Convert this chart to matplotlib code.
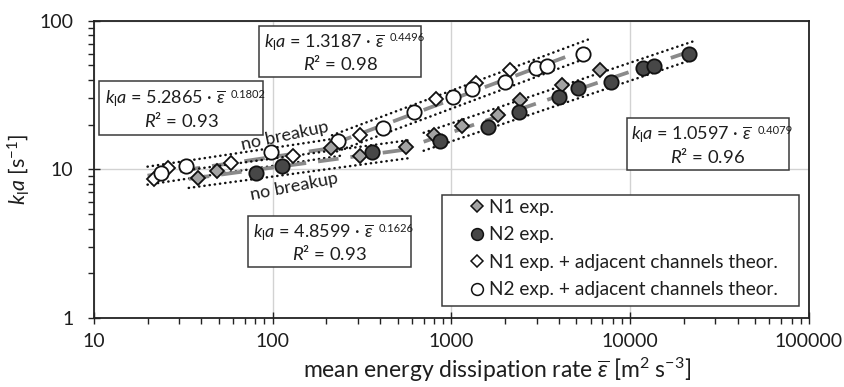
import numpy as np
import matplotlib
matplotlib.use('Agg')
import matplotlib.pyplot as plt
from matplotlib.patches import Rectangle
from matplotlib.lines import Line2D
from matplotlib.ticker import LogLocator, NullFormatter, FixedLocator, FixedFormatter

plt.rcParams['font.family'] = ['Lato', 'DejaVu Sans']
plt.rcParams['mathtext.fontset'] = 'custom'
plt.rcParams['mathtext.rm'] = 'Lato'
plt.rcParams['mathtext.it'] = 'Lato:italic'
plt.rcParams['mathtext.bf'] = 'Lato:bold'
plt.rcParams['mathtext.fallback'] = 'stixsans'

# ---------------- data ----------------
n1_exp_eps = [38.4, 48.9, 213.6, 310, 557, 799, 1141, 1821, 2428, 4157, 6738]
n1_exp_kla = [8.71, 9.80, 13.87, 12.30, 14.22, 17.0, 19.6, 23.2, 29.5, 37.1, 46.4]

n2_exp_eps = [80.4, 113.7, 361, 865, 1595, 2392, 3990, 5093, 7830, 11755, 13670, 21250]
n2_exp_kla = [9.41, 10.55, 13.1, 15.5, 19.3, 24.4, 30.5, 35.1, 38.7, 47.9, 49.2, 59.7]

n1_th_eps = [21.8, 26.0, 58.3, 131, 307.5, 825, 1380, 2117]
n1_th_kla = [8.66, 10.2, 11.0, 12.3, 16.9, 29.85, 37.9, 46.6]

n2_th_eps = [23.8, 32.7, 97.8, 231.6, 413, 617, 1017, 1306, 1986, 2984, 3420, 5414]
n2_th_kla = [9.5, 10.59, 13.0, 15.6, 19.1, 24.4, 30.8, 34.9, 38.6, 48.4, 49.7, 60.0]

# power-law fits kla = c * eps^n  (as printed on the chart)
fit_coef = [5.2865, 4.8599, 1.3187, 1.0597]
fit_expo = [0.1802, 0.1626, 0.4496, 0.4079]
fit_r2 = ['0.93', '0.93', '0.98', '0.96']
fit_lo = [20, 34, 215, 700]
fit_hi = [240, 600, 5800, 23000]

x_ticks = [10, 100, 1000, 10000, 100000]
x_ticklabels = ['10', '100', '1000', '10000', '100000']
y_ticks = [1, 10, 100]
y_ticklabels = ['1', '10', '100']

legend_labels = ['N1 exp.', 'N2 exp.', 'N1 exp. + adjacent channels theor.',
                 'N2 exp. + adjacent channels theor.']

# ---------------- figure ----------------
W, H = 844, 387
fig = plt.figure(figsize=(W / 100, H / 100), dpi=100)
ax_l, ax_r, ax_t, ax_b = 93.7, 809.0, 20.7, 318.0
ax = fig.add_axes([ax_l / W, 1 - ax_b / H, (ax_r - ax_l) / W, (ax_b - ax_t) / H])

def axfx(px):
    return (px - ax_l) / (ax_r - ax_l)

def axfy(py):
    return (ax_b - py) / (ax_b - ax_t)

ax.set_xscale('log')
ax.set_yscale('log')
ax.set_xlim(10, 100000)
ax.set_ylim(1, 100)

txtc = '#1e1e1e'
ax.xaxis.set_major_locator(FixedLocator(x_ticks))
ax.xaxis.set_major_formatter(FixedFormatter(x_ticklabels))
ax.yaxis.set_major_locator(FixedLocator(y_ticks))
ax.yaxis.set_major_formatter(FixedFormatter(y_ticklabels))
ax.xaxis.set_minor_locator(LogLocator(base=10, subs=np.arange(2, 10)))
ax.yaxis.set_minor_locator(LogLocator(base=10, subs=np.arange(2, 10)))
ax.xaxis.set_minor_formatter(NullFormatter())
ax.yaxis.set_minor_formatter(NullFormatter())
ax.tick_params(which='major', direction='inout', length=9, width=1.0, color='#222222',
               labelsize=14, labelcolor=txtc)
ax.tick_params(axis='x', which='major', pad=6)
ax.tick_params(axis='y', which='major', pad=10)
ax.tick_params(which='minor', direction='out', length=4.5, width=1.0, color='#222222')
ax.grid(which='major', color='#d2d2d2', lw=1.0, zorder=0)
ax.set_axisbelow(True)
for s in ax.spines.values():
    s.set_color('#222222')
    s.set_linewidth(1.3)

# fit lines + dotted bands
band = 10 ** (9.0 / 148.7)
for c, n, lo, hi in zip(fit_coef, fit_expo, fit_lo, fit_hi):
    xs = np.logspace(np.log10(lo), np.log10(hi), 60)
    ys = c * xs ** n
    ax.plot(xs, ys, color='#8a8a8a', lw=2.7, dashes=(5.5, 3.2), zorder=2)
    for f in (band, 1 / band):
        ax.plot(xs, ys * f, color='#111111', lw=1.8, linestyle=(0, (0.1, 2.0)),
                dash_capstyle='round', zorder=2)

# data markers
ms_c = 10.3
ms_d = 7.2
ax.plot(n1_th_eps, n1_th_kla, ls='none', marker='D', ms=ms_d, mfc='white', mec='#111111', mew=1.3, zorder=4)
ax.plot(n2_th_eps, n2_th_kla, ls='none', marker='o', ms=ms_c, mfc='white', mec='#111111', mew=1.3, zorder=4)
ax.plot(n1_exp_eps, n1_exp_kla, ls='none', marker='D', ms=ms_d, mfc='#a3a3a3', mec='#111111', mew=1.3, zorder=5)
ax.plot(n2_exp_eps, n2_exp_kla, ls='none', marker='o', ms=ms_c, mfc='#474747', mec='#111111', mew=1.3, zorder=5)

# "no breakup" annotations
ax.text(axfx(285), axfy(135.5), 'no breakup', fontsize=13, color=txtc, rotation=12,
        ha='center', va='center', zorder=6, transform=ax.transAxes)
ax.text(axfx(294), axfy(187), 'no breakup', fontsize=13, color=txtc, rotation=11,
        ha='center', va='center', zorder=6, transform=ax.transAxes)

# equation boxes (pixel boxes in figure)
boxes = [(99.3, 81, 262.7, 135), (247.7, 215.7, 410.7, 267.3),
         (259, 25.7, 421, 76.7), (626.7, 118.3, 789, 170)]
for (x0, y0, x1, y1), c, n, r2 in zip(boxes, fit_coef, fit_expo, fit_r2):
    ax.add_patch(Rectangle((axfx(x0), axfy(y1)), axfx(x1) - axfx(x0), axfy(y0) - axfy(y1),
                           transform=ax.transAxes, fill=True, fc='white', ec='#3a3a3a',
                           lw=1.1, zorder=7))
    cx_px = (x0 + x1) / 2
    hgt = y1 - y0
    line1 = r'$k_{\mathrm{l}}a$' + f' = {c:.4f} · ' + r'$\overline{\varepsilon}$'
    t1 = ax.text(axfx(cx_px - 16), axfy(y0 + 0.33 * hgt), line1, fontsize=13, color=txtc,
                 ha='center', va='center', transform=ax.transAxes, zorder=8)
    ax.annotate(f'{n:.4f}', xy=(1, 1), xycoords=t1, xytext=(5, 0),
                textcoords='offset pixels', fontsize=8, color=txtc,
                ha='left', va='top', zorder=8)
    ax.text(axfx(cx_px), axfy(y0 + 0.74 * hgt), r'$R$' + f'² = {r2}', fontsize=13.3,
            color=txtc, ha='center', va='center', transform=ax.transAxes, zorder=8)

# legend
ax.add_patch(Rectangle((axfx(441.7), axfy(306)), axfx(799.3) - axfx(441.7), axfy(195) - axfy(306),
                       transform=ax.transAxes, fc='white', ec='#3a3a3a', lw=1.1, zorder=7))
handles = [
    Line2D([], [], ls='none', marker='D', ms=5.8, mfc='#a3a3a3', mec='#111111', mew=1.1),
    Line2D([], [], ls='none', marker='o', ms=8.5, mfc='#474747', mec='#111111', mew=1.1),
    Line2D([], [], ls='none', marker='D', ms=5.8, mfc='white', mec='#111111', mew=1.1),
    Line2D([], [], ls='none', marker='o', ms=8.5, mfc='white', mec='#111111', mew=1.1),
]
leg = ax.legend(handles, legend_labels, loc='upper left',
                bbox_to_anchor=(axfx(469.2), axfy(199)), frameon=False, fontsize=13.7,
                borderpad=0, borderaxespad=0, handlelength=0.8, handletextpad=0.25,
                labelspacing=0.55)
leg.set_zorder(9)
for t in leg.get_texts():
    t.set_color(txtc)

ax.set_xlabel(r'mean energy dissipation rate $\overline{\varepsilon}$ [m$^2$ s$^{-3}$]',
              fontsize=16.5, color=txtc)
ax.xaxis.set_label_coords(axfx(497), axfy(356))
ax.set_ylabel(r'$k_{\mathrm{l}}a$ [s$^{-1}$]', fontsize=15.5, color=txtc)
ax.yaxis.set_label_coords(axfx(31), 0.5)

fig.savefig('out.png', dpi=100)
